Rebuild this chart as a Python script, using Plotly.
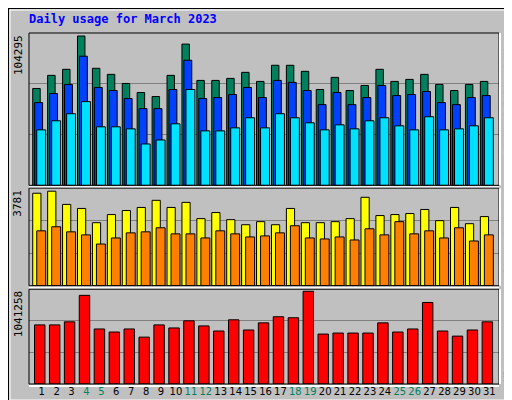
import plotly.graph_objects as go

days = list(range(1, 32))
weekend = [4, 5, 11, 12, 18, 19, 25, 26]
hits = [66307,75286,79431,102224,80121,75977,69761,63544,60782,75286,96698,71833,71833,73214,77358,71142,82193,82193,78049,65617,73905,64926,68379,79431,71142,72524,75977,69070,64926,69070,71142]
files = [56637,62854,69070,88410,66998,64926,59400,52493,52493,65617,85647,59400,60091,62163,66998,60091,71833,70451,64926,55256,63544,55256,60091,68379,61472,62163,64235,56637,55256,60091,61472]
pages = [37989,44205,49040,57328,40061,40061,38679,28319,31082,42133,65617,37298,37298,39370,46277,39370,49040,46277,42823,37989,41442,38679,44205,46277,40751,37989,46968,37989,38679,40751,46277]
visits = [3584,3663,3151,2994,2442,2757,2915,3033,3309,3033,3230,2600,2836,2560,2363,2482,2363,2994,2442,2442,2482,2600,3427,2718,2757,2797,2954,2521,3033,2403,2679]
sites = [2127,2285,2088,1970,1615,1851,2048,2088,2245,2009,2009,1851,2127,2009,1891,1930,2048,2324,1851,1812,1891,1773,2206,1970,2482,2009,2127,1851,2245,1733,1970]
kbytes = [649368,649368,682956,974052,604584,570996,604584,515016,649368,615780,694152,638172,582192,705348,593388,671760,738936,727740,1018836,548604,559800,559800,559800,671760,570996,604584,895680,582192,526212,593388,682956]
max_top, max_mid, max_bot = 104295, 3781, 1041258

fig = go.Figure()
ln = dict(color="black", width=1)
def bar(y, color, off, w, ya):
    fig.add_trace(go.Bar(x=days, y=y, offset=off, width=w, marker=dict(color=color, line=ln),
                         yaxis=ya, xaxis="x" if ya == "y3" else ("x2" if ya == "y2" else "x3")))
bar(hits, "#00805c", -0.6, 0.5, "y")
bar(files, "#0040ff", -0.47, 0.53, "y")
bar(pages, "#00e0ff", -0.33, 0.6, "y")
bar(visits, "#ffff00", -0.6, 0.55, "y2")
bar(sites, "#ff8000", -0.33, 0.6, "y2")
bar(kbytes, "#ff0000", -0.48, 0.7, "y3")

xr = [0.15, 31.65]
ticktext = [f"<span style='color:#00805c'>{d}</span>" if d in weekend else str(d) for d in days]
common_x = dict(range=xr, showgrid=False, zeroline=False, fixedrange=True)
def yax(m, dom):
    return dict(domain=dom, range=[0, m], tickvals=[m/3, 2*m/3], showticklabels=False,
                gridcolor="#808080", gridwidth=1, zeroline=False, ticks="")
fig.update_layout(
    width=512, height=400, margin=dict(l=21, r=21, t=25, b=24),
    paper_bgcolor="#c0c0c0", plot_bgcolor="#c0c0c0", showlegend=False, barmode="overlay",
    font=dict(family="DejaVu Sans Mono", size=11, color="black"),
    xaxis=dict(**common_x, anchor="y3", tickmode="array", tickvals=days, ticktext=ticktext,
               tickfont=dict(family="DejaVu Sans", size=10), ticks="", tickangle=0, automargin=False),
    xaxis2=dict(**common_x, anchor="y2", showticklabels=False),
    xaxis3=dict(**common_x, anchor="y", showticklabels=False),
    yaxis=dict(**yax(max_top, [0.566, 1])),
    yaxis2=dict(**yax(max_mid, [0.28, 0.558])),
    yaxis3=dict(**yax(max_bot, [0, 0.27])),
)
shapes = []
shapes.append(dict(type="rect", xref="paper", yref="paper", x0=-21/470, x1=1+21/470, y0=-24/351, y1=1+25/351,
                   line=dict(color="black", width=2), layer="below"))
shapes.append(dict(type="rect", xref="paper", yref="paper", x0=-19/470, x1=1+13/470, y0=-16/351, y1=1+23/351,
                   line=dict(color="white", width=1), layer="below"))
for dom in ([0.566, 1], [0.28, 0.558], [0, 0.27]):
    shapes.append(dict(type="rect", xref="paper", yref="paper", x0=0, x1=1, y0=dom[0], y1=dom[1],
                       line=dict(color="black", width=1)))
    shapes.append(dict(type="line", xref="paper", yref="paper", x0=0, x1=1, y0=dom[0]-2/351, y1=dom[0]-2/351,
                       line=dict(color="white", width=2)))
    shapes.append(dict(type="line", xref="paper", yref="paper", x0=1+1/470, x1=1+1/470, y0=dom[0], y1=dom[1],
                       line=dict(color="white", width=2)))
fig.update_layout(shapes=shapes)

ann = [
    dict(text="<b>Daily usage for March 2023</b>", x=-2/470, y=1+14/351, xanchor="left", yanchor="middle",
         font=dict(color="#0000ff", size=12, family="DejaVu Sans Mono")),
    dict(text=str(max_top), x=-11/470, y=1, yanchor="top", textangle=-90),
    dict(text=str(max_mid), x=-11/470, y=0.558, yanchor="top", textangle=-90),
    dict(text=str(max_bot), x=-11/470, y=0.27, yanchor="top", textangle=-90),
    dict(text="<span style='color:#00e0ff'>Pages</span> / <span style='color:#0040ff'>Files</span> / <span style='color:#00805c'>Hits</span>",
         x=1+9/470, y=1, yanchor="top", textangle=-90, font=dict(color="#404040", size=10)),
    dict(text="<span style='color:#ff8000'>Sites</span> / <span style='color:#ffff00'>Visits</span>",
         x=1+9/470, y=0.558, yanchor="top", textangle=-90, font=dict(color="#404040", size=10)),
    dict(text="<span style='color:#ff0000'>KBytes</span>", x=1+9/470, y=0, yanchor="bottom", textangle=-90,
         font=dict(size=10)),
]
for a in ann:
    a.setdefault("xref", "paper"); a.setdefault("yref", "paper"); a.setdefault("showarrow", False)
    a.setdefault("xanchor", "center")
fig.update_layout(annotations=ann)
fig.write_html("out.html")
